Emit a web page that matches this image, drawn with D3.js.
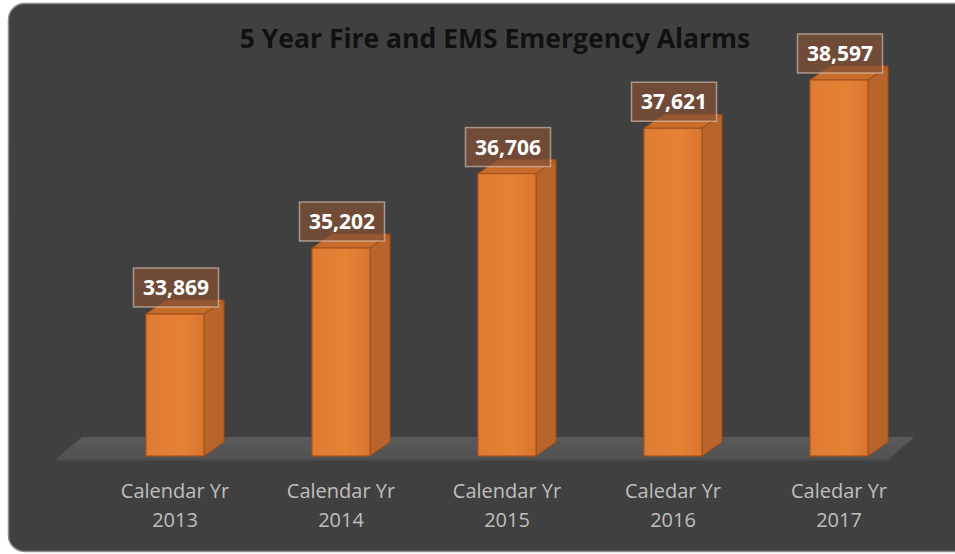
<!DOCTYPE html>
<html><head><meta charset="utf-8">
<script src="https://cdn.jsdelivr.net/npm/d3@7"></script>
<style>body{margin:0;background:#fff}svg{display:block}</style>
</head><body>
<svg id="c" width="955" height="554"></svg>
<script>
const categories = [["Calendar Yr","2013"],["Calendar Yr","2014"],["Calendar Yr","2015"],["Caledar Yr","2016"],["Caledar Yr","2017"]];
const values = [33869, 35202, 36706, 37621, 38597];
const title = "5 Year Fire and EMS Emergency Alarms";

const svg = d3.select("#c");
const font = "'Open Sans', sans-serif";
svg.append("rect").attr("x",8.5).attr("y",3.5).attr("width",965).attr("height",548)
  .attr("rx",16).attr("fill","#404040").attr("stroke","#8c8c8c").attr("stroke-width",1.5);

const x = d3.scaleBand().domain(d3.range(values.length)).range([92,922]).paddingInner(0.65).paddingOuter(0.325);
const y = d3.scaleLinear().domain([31000,39000]).range([456,60]);
const dx = 20, dy = -14;

const defs = svg.append("defs");
const g1 = defs.append("linearGradient").attr("id","front").attr("x1",0).attr("x2",1).attr("y1",0).attr("y2",0);
g1.append("stop").attr("offset","0%").attr("stop-color","#e07b32");
g1.append("stop").attr("offset","60%").attr("stop-color","#e58236");
g1.append("stop").attr("offset","100%").attr("stop-color","#da7530");
const g2 = defs.append("linearGradient").attr("id","floor").attr("x1",0).attr("x2",0).attr("y1",0).attr("y2",1);
g2.append("stop").attr("offset","0%").attr("stop-color","#5a5a5a");
g2.append("stop").attr("offset","100%").attr("stop-color","#515151");

// floor
svg.append("path").attr("d","M56,459 L889,459 L914,437 L82,437 Z").attr("fill","url(#floor)");
svg.append("path").attr("d","M56,459 L889,459 L891,461 L58,461 Z").attr("fill","#4a4a4a");

const bars = svg.append("g").selectAll("g").data(values).join("g");
bars.each(function(v,i){
  const g = d3.select(this);
  const x0 = x(i), w = x.bandwidth(), yt = y(v), yb = y(31000);
  g.append("path").attr("d",`M${x0+w},${yt} L${x0+w+dx},${yt+dy} L${x0+w+dx},${yb+dy} L${x0+w},${yb} Z`)
    .attr("fill","#b9642a").attr("stroke","#9a4c18").attr("stroke-width",1);
  g.append("path").attr("d",`M${x0},${yt} L${x0+dx},${yt+dy} L${x0+w+dx},${yt+dy} L${x0+w},${yt} Z`)
    .attr("fill","#c86c2c").attr("stroke","#9a4c18").attr("stroke-width",1);
  g.append("rect").attr("x",x0).attr("y",yt).attr("width",w).attr("height",yb-yt)
    .attr("fill","url(#front)").attr("stroke","#a4521c").attr("stroke-width",1.2);
});

// value labels
const lab = svg.append("g").selectAll("g").data(values).join("g")
  .attr("transform",(v,i)=>`translate(${x(i)+x.bandwidth()/2+1},${y(v)-26.5})`);
lab.append("rect").attr("x",-42.5).attr("y",-19.5).attr("width",85).attr("height",39)
  .attr("fill","rgba(130,81,53,0.72)").attr("stroke","rgba(225,205,190,0.6)").attr("stroke-width",1.5);
lab.append("text").attr("text-anchor","middle").attr("dy","0.36em")
  .attr("font-family",font).attr("font-weight","bold").attr("font-size",21).attr("fill","#fff")
  .text(v=>d3.format(",")(v));

// category labels
const cl = svg.append("g").selectAll("text").data(categories).join("text")
  .attr("x",(d,i)=>x(i)+x.bandwidth()/2).attr("y",498).attr("text-anchor","middle")
  .attr("font-family",font).attr("font-size",20).attr("fill","#bfbfbf");
cl.append("tspan").attr("x",(d,i)=>x(i)+x.bandwidth()/2).text(d=>d[0]);
cl.append("tspan").attr("x",(d,i)=>x(i)+x.bandwidth()/2).attr("dy",29).text(d=>d[1]);

svg.append("text").attr("x",495).attr("y",48).attr("text-anchor","middle")
  .attr("font-family",font).attr("font-weight","bold").attr("font-size",26.5).attr("fill","#111")
  .text(title);
</script>
</body></html>
